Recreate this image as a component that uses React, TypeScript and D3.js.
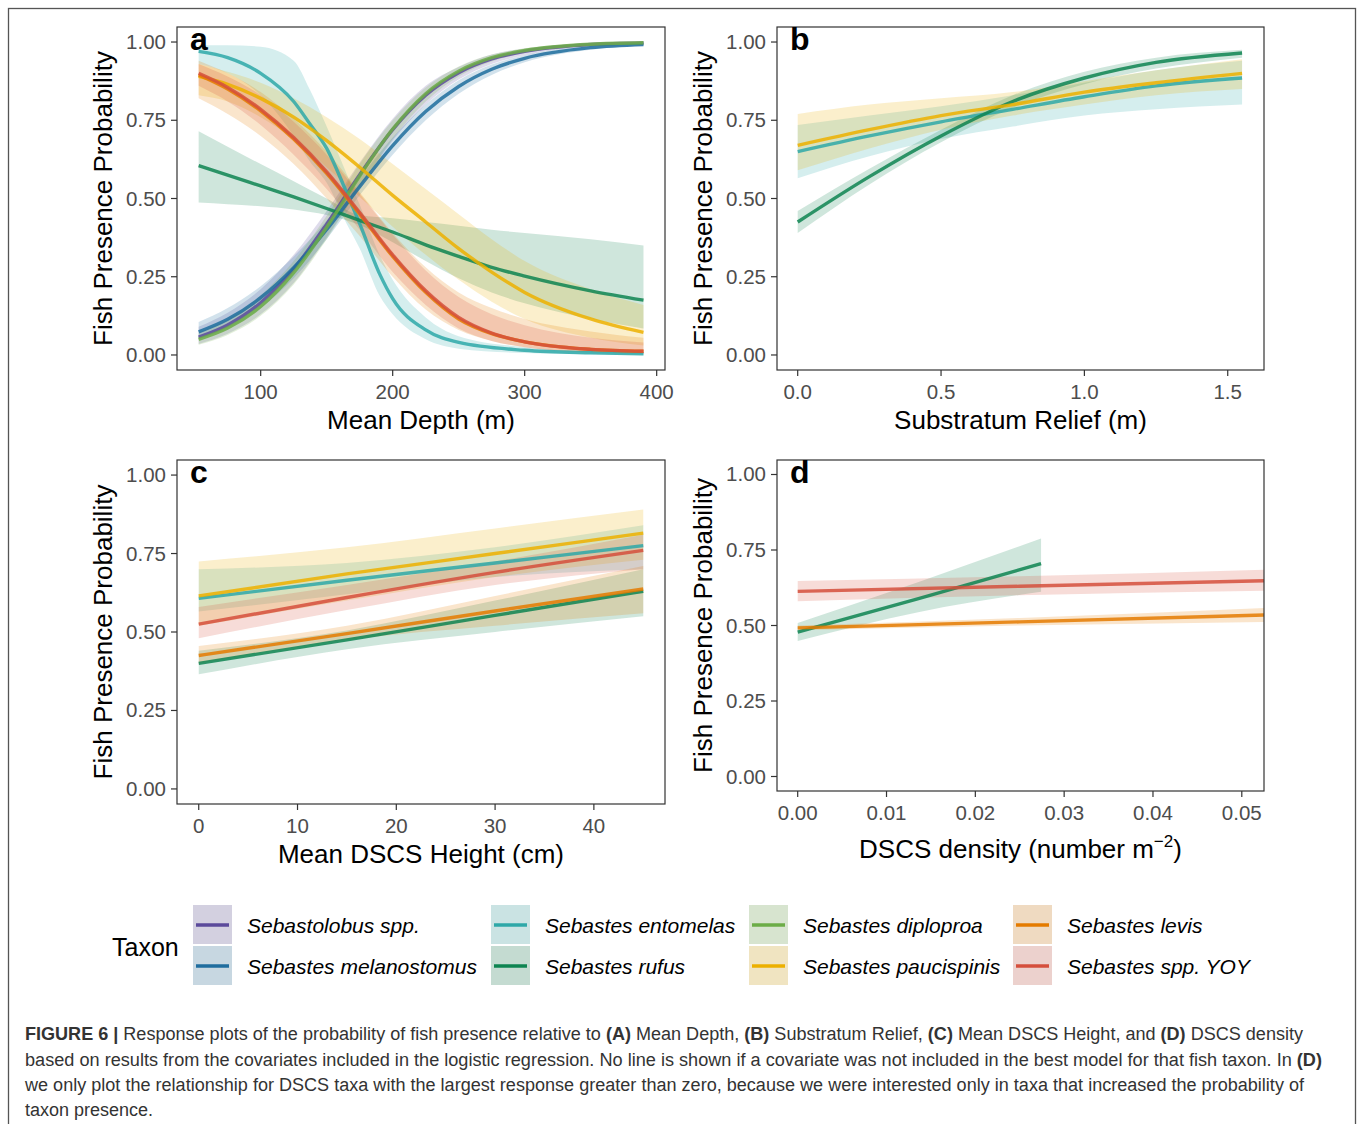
import React from "react";
import * as d3 from "d3";

// x, fitted probability, lower, upper
type Row = [number, number, number, number];

const taxa = [
  "Sebastolobus spp.",
  "Sebastes melanostomus",
  "Sebastes entomelas",
  "Sebastes rufus",
  "Sebastes diploproa",
  "Sebastes paucispinis",
  "Sebastes levis",
  "Sebastes spp. YOY",
];
const taxonColors = ["#5b4a9b", "#1f6d9e", "#2ea8a8", "#0e8451", "#6cad47", "#ecb000", "#e47b00", "#d54f3c"];

// ---- panel a : Mean Depth (m)
const depthSebastolobus: Row[] = [
  [53, 0.057, 0.035, 0.09], [75, 0.096, 0.068, 0.135], [100, 0.167, 0.13, 0.21], [125, 0.275, 0.23, 0.32],
  [150, 0.418, 0.375, 0.46], [175, 0.576, 0.535, 0.615], [200, 0.72, 0.685, 0.755], [225, 0.83, 0.8, 0.86],
  [250, 0.902, 0.88, 0.92], [275, 0.946, 0.93, 0.96], [300, 0.97, 0.958, 0.979], [350, 0.992, 0.987, 0.995],
  [390, 0.997, 0.994, 0.999],
];
const depthMelanostomus: Row[] = [
  [53, 0.074, 0.05, 0.105], [75, 0.114, 0.085, 0.15], [100, 0.183, 0.15, 0.22], [125, 0.279, 0.245, 0.315],
  [150, 0.401, 0.37, 0.43], [175, 0.538, 0.51, 0.565], [200, 0.669, 0.64, 0.695], [225, 0.778, 0.75, 0.8],
  [250, 0.858, 0.835, 0.878], [275, 0.913, 0.895, 0.928], [300, 0.948, 0.935, 0.958], [350, 0.982, 0.975, 0.987],
  [390, 0.992, 0.988, 0.995],
];
const depthEntomelas: Row[] = [
  [53, 0.97, 0.93, 0.99], [75, 0.95, 0.9, 0.99], [100, 0.9, 0.83, 0.985], [125, 0.81, 0.7, 0.94],
  [137, 0.74, 0.62, 0.85], [150, 0.66, 0.55, 0.73], [165, 0.52, 0.42, 0.58], [175, 0.42, 0.34, 0.48],
  [190, 0.26, 0.19, 0.32], [200, 0.18, 0.13, 0.24], [225, 0.08, 0.05, 0.12], [250, 0.04, 0.02, 0.06],
  [300, 0.015, 0.006, 0.025], [350, 0.007, 0.002, 0.012], [390, 0.004, 0.001, 0.008],
];
const depthRufus: Row[] = [
  [53, 0.605, 0.487, 0.715], [75, 0.575, 0.482, 0.665], [100, 0.54, 0.475, 0.61], [125, 0.505, 0.465, 0.555],
  [150, 0.468, 0.447, 0.5], [175, 0.43, 0.415, 0.447], [200, 0.393, 0.36, 0.437], [225, 0.352, 0.3, 0.425],
  [250, 0.315, 0.245, 0.413], [275, 0.28, 0.2, 0.4], [300, 0.252, 0.165, 0.39], [350, 0.205, 0.115, 0.37],
  [390, 0.175, 0.085, 0.35],
];
const depthDiploproa: Row[] = [
  [53, 0.05, 0.033, 0.072], [75, 0.086, 0.064, 0.115], [100, 0.155, 0.125, 0.19], [125, 0.263, 0.225, 0.3],
  [150, 0.408, 0.37, 0.445], [175, 0.572, 0.535, 0.61], [200, 0.722, 0.69, 0.75], [225, 0.835, 0.81, 0.855],
  [250, 0.907, 0.89, 0.922], [275, 0.95, 0.938, 0.96], [300, 0.973, 0.965, 0.98], [350, 0.993, 0.989, 0.995],
  [390, 0.9975, 0.996, 0.999],
];
const depthPaucispinis: Row[] = [
  [53, 0.89, 0.83, 0.93], [75, 0.865, 0.81, 0.905], [100, 0.82, 0.76, 0.87], [125, 0.76, 0.69, 0.82],
  [150, 0.685, 0.6, 0.76], [175, 0.6, 0.505, 0.69], [200, 0.51, 0.41, 0.61], [225, 0.425, 0.32, 0.53],
  [250, 0.34, 0.24, 0.45], [275, 0.265, 0.17, 0.37], [300, 0.2, 0.115, 0.3], [350, 0.115, 0.055, 0.21],
  [390, 0.072, 0.03, 0.16],
];
const depthLevis: Row[] = [
  [53, 0.895, 0.82, 0.94], [75, 0.85, 0.77, 0.9], [100, 0.78, 0.7, 0.84], [125, 0.69, 0.61, 0.755],
  [150, 0.58, 0.5, 0.65], [175, 0.45, 0.38, 0.52], [200, 0.315, 0.25, 0.39], [225, 0.2, 0.145, 0.28],
  [250, 0.115, 0.08, 0.2], [275, 0.068, 0.045, 0.15], [300, 0.042, 0.025, 0.115], [350, 0.018, 0.008, 0.075],
  [390, 0.012, 0.004, 0.055],
];
const depthYOY: Row[] = [
  [53, 0.9, 0.86, 0.93], [75, 0.855, 0.81, 0.89], [100, 0.785, 0.735, 0.83], [125, 0.695, 0.64, 0.745],
  [150, 0.585, 0.53, 0.64], [175, 0.455, 0.4, 0.515], [200, 0.32, 0.265, 0.385], [225, 0.205, 0.16, 0.27],
  [250, 0.12, 0.085, 0.185], [275, 0.07, 0.045, 0.13], [300, 0.042, 0.025, 0.095], [350, 0.018, 0.009, 0.055],
  [390, 0.012, 0.005, 0.04],
];

// ---- panel b : Substratum Relief (m)
const reliefEntomelas: Row[] = [
  [0, 0.65, 0.565, 0.735], [0.25, 0.7, 0.635, 0.765], [0.5, 0.745, 0.69, 0.795], [0.75, 0.785, 0.73, 0.83],
  [1.0, 0.825, 0.765, 0.87], [1.25, 0.86, 0.785, 0.91], [1.55, 0.885, 0.8, 0.94],
];
const reliefRufus: Row[] = [
  [0, 0.425, 0.39, 0.46], [0.25, 0.57, 0.545, 0.595], [0.5, 0.7, 0.68, 0.72], [0.75, 0.81, 0.79, 0.83],
  [1.0, 0.885, 0.865, 0.905], [1.25, 0.935, 0.915, 0.95], [1.55, 0.965, 0.95, 0.975],
];
const reliefPaucispinis: Row[] = [
  [0, 0.67, 0.59, 0.77], [0.25, 0.72, 0.66, 0.8], [0.5, 0.765, 0.72, 0.82], [0.75, 0.8, 0.765, 0.84],
  [1.0, 0.84, 0.8, 0.875], [1.25, 0.87, 0.83, 0.91], [1.55, 0.9, 0.85, 0.945],
];

// ---- panel c : Mean DSCS Height (cm)
const heightEntomelas: Row[] = [[0, 0.607, 0.565, 0.7], [15, 0.665, 0.62, 0.72], [30, 0.72, 0.675, 0.77], [45, 0.775, 0.7, 0.84]];
const heightRufus: Row[] = [[0, 0.4, 0.365, 0.44], [15, 0.475, 0.445, 0.505], [30, 0.553, 0.5, 0.6], [45, 0.63, 0.55, 0.7]];
const heightPaucispinis: Row[] = [[0, 0.615, 0.52, 0.725], [15, 0.685, 0.6, 0.77], [30, 0.75, 0.675, 0.83], [45, 0.815, 0.73, 0.89]];
const heightLevis: Row[] = [[0, 0.425, 0.4, 0.455], [15, 0.495, 0.475, 0.52], [30, 0.567, 0.52, 0.615], [45, 0.637, 0.56, 0.71]];
const heightYOY: Row[] = [[0, 0.525, 0.48, 0.58], [15, 0.61, 0.57, 0.65], [30, 0.69, 0.65, 0.725], [45, 0.76, 0.7, 0.81]];

// ---- panel d : DSCS density
const densityRufus: Row[] = [[0, 0.478, 0.449, 0.508], [0.0137, 0.59, 0.545, 0.645], [0.0274, 0.705, 0.612, 0.788]];
const densityLevis: Row[] = [[0, 0.492, 0.484, 0.5], [0.025, 0.512, 0.5, 0.525], [0.0525, 0.535, 0.512, 0.558]];
const densityYOY: Row[] = [[0, 0.613, 0.58, 0.647], [0.025, 0.63, 0.6, 0.663], [0.0525, 0.648, 0.615, 0.685]];

const yTicks = [0, 0.25, 0.5, 0.75, 1];
const depthTicks = [100, 200, 300, 400];
const reliefTicks = [0, 0.5, 1.0, 1.5];
const heightTicks = [0, 10, 20, 30, 40];
const densityTicks = [0, 0.01, 0.02, 0.03, 0.04, 0.05];

const FONT = "'Liberation Sans', Arial, Helvetica, sans-serif";
const yDomain: [number, number] = [-0.048, 1.048];

type Series = { taxon: number; rows: Row[] };
type PanelSpec = {
  letter: string;
  box: { x0: number; x1: number; y0: number; y1: number };
  xDomain: [number, number];
  xTicks: number[];
  xFormat: (v: number) => string;
  xTitle: React.ReactNode;
  titleDy: number;
  series: Series[];
};

const panels: PanelSpec[] = [
  {
    letter: "a",
    box: { x0: 177, x1: 665, y0: 27, y1: 370 },
    xDomain: [36.6, 406.3],
    xTicks: depthTicks,
    xFormat: (v) => String(v),
    xTitle: "Mean Depth (m)",
    titleDy: 59,
    series: [
      { taxon: 0, rows: depthSebastolobus },
      { taxon: 1, rows: depthMelanostomus },
      { taxon: 2, rows: depthEntomelas },
      { taxon: 3, rows: depthRufus },
      { taxon: 4, rows: depthDiploproa },
      { taxon: 5, rows: depthPaucispinis },
      { taxon: 6, rows: depthLevis },
      { taxon: 7, rows: depthYOY },
    ],
  },
  {
    letter: "b",
    box: { x0: 777, x1: 1264, y0: 27, y1: 370 },
    xDomain: [-0.0722, 1.6265],
    xTicks: reliefTicks,
    xFormat: d3.format(".1f"),
    xTitle: "Substratum Relief (m)",
    titleDy: 59,
    series: [
      { taxon: 2, rows: reliefEntomelas },
      { taxon: 3, rows: reliefRufus },
      { taxon: 5, rows: reliefPaucispinis },
    ],
  },
  {
    letter: "c",
    box: { x0: 177, x1: 665, y0: 460, y1: 804 },
    xDomain: [-2.2, 47.2],
    xTicks: heightTicks,
    xFormat: (v) => String(v),
    xTitle: "Mean DSCS Height (cm)",
    titleDy: 59,
    series: [
      { taxon: 2, rows: heightEntomelas },
      { taxon: 3, rows: heightRufus },
      { taxon: 5, rows: heightPaucispinis },
      { taxon: 6, rows: heightLevis },
      { taxon: 7, rows: heightYOY },
    ],
  },
  {
    letter: "d",
    box: { x0: 777, x1: 1264, y0: 460, y1: 791 },
    xDomain: [-0.00233, 0.0525],
    xTicks: densityTicks,
    xFormat: d3.format(".2f"),
    xTitle: (
      <>
        DSCS density (number m
        <tspan dy={-11} fontSize={17}>−2</tspan>
        <tspan dy={11}>)</tspan>
      </>
    ),
    titleDy: 67,
    series: [
      { taxon: 3, rows: densityRufus },
      { taxon: 6, rows: densityLevis },
      { taxon: 7, rows: densityYOY },
    ],
  },
];

function Panel({ p }: { p: PanelSpec }) {
  const { x0, x1, y0, y1 } = p.box;
  const x = d3.scaleLinear().domain(p.xDomain).range([x0, x1]);
  const y = d3.scaleLinear().domain(yDomain).range([y1, y0]);
  const line = d3
    .line<Row>()
    .x((r) => x(r[0]))
    .y((r) => y(r[1]))
    .curve(d3.curveMonotoneX);
  const area = d3
    .area<Row>()
    .x((r) => x(r[0]))
    .y0((r) => y(r[2]))
    .y1((r) => y(r[3]))
    .curve(d3.curveMonotoneX);
  const series = [...p.series].sort((a, b) => a.taxon - b.taxon);
  const yTitleX = x0 < 500 ? 112 : 712;

  return (
    <g>
      <rect x={x0} y={y0} width={x1 - x0} height={y1 - y0} fill="#fff" />
      {series.map((s) => (
        <path key={"r" + s.taxon} d={area(s.rows) || ""} fill={taxonColors[s.taxon]} fillOpacity={0.2} />
      ))}
      {series.map((s) => (
        <path
          key={"l" + s.taxon}
          d={line(s.rows) || ""}
          fill="none"
          stroke={taxonColors[s.taxon]}
          strokeWidth={3.4}
          strokeOpacity={0.85}
        />
      ))}
      <rect x={x0} y={y0} width={x1 - x0} height={y1 - y0} fill="none" stroke="#333" strokeWidth={1.2} />
      <text x={x0 + 13} y={y0 + 23} fontSize={32} fontWeight="bold" fontFamily={FONT} fill="#000">
        {p.letter}
      </text>
      {yTicks.map((t) => (
        <g key={"y" + t}>
          <line x1={x0 - 6} x2={x0} y1={y(t)} y2={y(t)} stroke="#333" strokeWidth={1.2} />
          <text x={x0 - 11} y={y(t) + 7} textAnchor="end" fontSize={20.5} fontFamily={FONT} fill="#4d4d4d">
            {d3.format(".2f")(t)}
          </text>
        </g>
      ))}
      {p.xTicks.map((t) => (
        <g key={"x" + t}>
          <line x1={x(t)} x2={x(t)} y1={y1} y2={y1 + 6} stroke="#333" strokeWidth={1.2} />
          <text x={x(t)} y={y1 + 29} textAnchor="middle" fontSize={20.5} fontFamily={FONT} fill="#4d4d4d">
            {p.xFormat(t)}
          </text>
        </g>
      ))}
      <text
        x={(x0 + x1) / 2}
        y={y1 + p.titleDy}
        textAnchor="middle"
        fontSize={26}
        fontFamily={FONT}
        fill="#000"
      >
        {p.xTitle}
      </text>
      <text
        transform={`translate(${yTitleX},${(y0 + y1) / 2}) rotate(-90)`}
        textAnchor="middle"
        fontSize={26}
        fontFamily={FONT}
        fill="#000"
      >
        Fish Presence Probability
      </text>
    </g>
  );
}

// legend layout: taxa laid out in 4 columns of 2
const legendKeyX = [193, 491, 749, 1013];
const legendRowY = [905, 946];

function Legend() {
  return (
    <g fontFamily={FONT}>
      <text x={112} y={956} fontSize={25} fill="#000">
        Taxon
      </text>
      {taxa.map((name, i) => {
        const col = Math.floor(i / 2);
        const row = i % 2;
        const kx = legendKeyX[col];
        const ky = legendRowY[row];
        return (
          <g key={name}>
            <rect x={kx} y={ky} width={39} height={39} fill="#f2f2f2" />
            <rect x={kx} y={ky} width={39} height={39} fill={taxonColors[i]} fillOpacity={0.2} />
            <line x1={kx + 3} x2={kx + 36} y1={ky + 20} y2={ky + 20} stroke={taxonColors[i]} strokeWidth={3.6} />
            <text x={kx + 54} y={ky + 28} fontSize={21} fontStyle="italic" fill="#000">
              {name}
            </text>
          </g>
        );
      })}
    </g>
  );
}

function Caption() {
  const common = { fontSize: 18, fontFamily: FONT, fill: "#333", lengthAdjust: "spacingAndGlyphs" as const };
  return (
    <g>
      <text x={25} y={1040} textLength={1278} {...common}>
        <tspan fontWeight="bold">FIGURE 6 |</tspan> Response plots of the probability of fish presence relative to{" "}
        <tspan fontWeight="bold">(A)</tspan> Mean Depth, <tspan fontWeight="bold">(B)</tspan> Substratum Relief,{" "}
        <tspan fontWeight="bold">(C)</tspan> Mean DSCS Height, and <tspan fontWeight="bold">(D)</tspan> DSCS density
      </text>
      <text x={25} y={1066} textLength={1297} {...common}>
        based on results from the covariates included in the logistic regression. No line is shown if a covariate was not
        included in the best model for that fish taxon. In <tspan fontWeight="bold">(D)</tspan>
      </text>
      <text x={25} y={1091} textLength={1279} {...common}>
        we only plot the relationship for DSCS taxa with the largest response greater than zero, because we were
        interested only in taxa that increased the probability of
      </text>
      <text x={25} y={1116} {...common}>
        taxon presence.
      </text>
    </g>
  );
}

export default function App() {
  return (
    <svg
      width={1358}
      height={1124}
      style={{ position: "absolute", left: 0, top: 0, background: "#fff" }}
    >
      <rect x={8.5} y={8.5} width={1347} height={1200} fill="#fff" stroke="#555" strokeWidth={1.3} />
      {panels.map((p) => (
        <Panel key={p.letter} p={p} />
      ))}
      <Legend />
      <Caption />
    </svg>
  );
}
